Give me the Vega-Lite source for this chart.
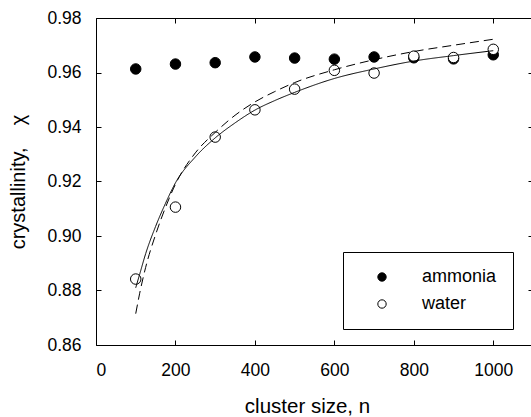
{
  "$schema": "https://vega.github.io/schema/vega-lite/v6.json",
  "autosize": "none",
  "padding": {"left": 96, "top": 18, "right": 0, "bottom": 72},
  "width": 437,
  "height": 327,
  "background": "white",
  "config": {
    "view": {"stroke": "black", "strokeWidth": 1},
    "font": "Liberation Sans",
    "axis": {"domain": false, "grid": false, "tickColor": "black", "labelColor": "black", "titleColor": "black", "labelFont": "Liberation Sans", "titleFont": "Liberation Sans", "titleFontWeight": "normal"}
  },
  "datasets": {
    "pts": [
      {"n": 100, "chi": 0.9613, "series": "ammonia"},
      {"n": 200, "chi": 0.9631, "series": "ammonia"},
      {"n": 300, "chi": 0.9636, "series": "ammonia"},
      {"n": 400, "chi": 0.9657, "series": "ammonia"},
      {"n": 500, "chi": 0.9653, "series": "ammonia"},
      {"n": 600, "chi": 0.9649, "series": "ammonia"},
      {"n": 700, "chi": 0.9657, "series": "ammonia"},
      {"n": 800, "chi": 0.9654, "series": "ammonia"},
      {"n": 900, "chi": 0.9650, "series": "ammonia"},
      {"n": 1000, "chi": 0.9665, "series": "ammonia"},
      {"n": 100, "chi": 0.8842, "series": "water"},
      {"n": 200, "chi": 0.9106, "series": "water"},
      {"n": 300, "chi": 0.9363, "series": "water"},
      {"n": 400, "chi": 0.9463, "series": "water"},
      {"n": 500, "chi": 0.9539, "series": "water"},
      {"n": 600, "chi": 0.9608, "series": "water"},
      {"n": 700, "chi": 0.9598, "series": "water"},
      {"n": 800, "chi": 0.9660, "series": "water"},
      {"n": 900, "chi": 0.9655, "series": "water"},
      {"n": 1000, "chi": 0.9685, "series": "water"}
    ],
    "fits": [
      {"n": 100, "chi": 0.881, "fit": "solid"},
      {"n": 110, "chi": 0.886, "fit": "solid"},
      {"n": 125, "chi": 0.8935, "fit": "solid"},
      {"n": 150, "chi": 0.9035, "fit": "solid"},
      {"n": 175, "chi": 0.912, "fit": "solid"},
      {"n": 200, "chi": 0.9195, "fit": "solid"},
      {"n": 250, "chi": 0.929, "fit": "solid"},
      {"n": 300, "chi": 0.936, "fit": "solid"},
      {"n": 350, "chi": 0.9415, "fit": "solid"},
      {"n": 400, "chi": 0.9462, "fit": "solid"},
      {"n": 450, "chi": 0.9497, "fit": "solid"},
      {"n": 500, "chi": 0.9527, "fit": "solid"},
      {"n": 600, "chi": 0.9578, "fit": "solid"},
      {"n": 700, "chi": 0.9613, "fit": "solid"},
      {"n": 800, "chi": 0.9642, "fit": "solid"},
      {"n": 900, "chi": 0.9662, "fit": "solid"},
      {"n": 1000, "chi": 0.968, "fit": "solid"},
      {"n": 100, "chi": 0.8715, "fit": "dashed"},
      {"n": 110, "chi": 0.879, "fit": "dashed"},
      {"n": 125, "chi": 0.8885, "fit": "dashed"},
      {"n": 150, "chi": 0.9005, "fit": "dashed"},
      {"n": 175, "chi": 0.9105, "fit": "dashed"},
      {"n": 200, "chi": 0.919, "fit": "dashed"},
      {"n": 250, "chi": 0.9305, "fit": "dashed"},
      {"n": 300, "chi": 0.938, "fit": "dashed"},
      {"n": 350, "chi": 0.9443, "fit": "dashed"},
      {"n": 400, "chi": 0.9492, "fit": "dashed"},
      {"n": 450, "chi": 0.953, "fit": "dashed"},
      {"n": 500, "chi": 0.9563, "fit": "dashed"},
      {"n": 600, "chi": 0.961, "fit": "dashed"},
      {"n": 700, "chi": 0.9647, "fit": "dashed"},
      {"n": 800, "chi": 0.9677, "fit": "dashed"},
      {"n": 900, "chi": 0.97, "fit": "dashed"},
      {"n": 1000, "chi": 0.9722, "fit": "dashed"}
    ]
  },
  "layer": [
    {
      "data": {"name": "pts"},
      "mark": {"type": "point", "filled": false, "stroke": "black", "strokeWidth": 1, "opacity": 1, "size": 110},
      "encoding": {
        "x": {"field": "n", "type": "quantitative", "scale": {"domain": [0, 1100], "nice": false, "zero": false},
          "axis": {"orient": "bottom", "values": [0, 200, 400, 600, 800, 1000], "format": "d", "tickSize": -5, "labelPadding": 21, "labelFontSize": 17.5, "labelBaseline": "top", "title": "cluster size, n", "titleFontSize": 20.5, "titleX": 211, "titleY": 67, "titleBaseline": "alphabetic", "titleAnchor": null}},
        "y": {"field": "chi", "type": "quantitative", "scale": {"domain": [0.86, 0.98], "nice": false, "zero": false},
          "axis": {"orient": "left", "values": [0.86, 0.88, 0.9, 0.92, 0.94, 0.96, 0.98], "format": ".2f", "tickSize": -5, "labelPadding": 20, "labelFontSize": 17.5, "title": "crystallinity,\u00a0\u00a0\u00a0\u00a0χ", "titleFontSize": 20, "titleX": -78, "titleY": 163.5, "titleAngle": -90, "titleBaseline": "middle", "titleAlign": "center"}},
        "fill": {"field": "series", "type": "nominal", "scale": {"domain": ["ammonia", "water"], "range": ["black", "white"]},
          "legend": {"title": null, "orient": "none", "legendX": 247, "legendY": 234, "direction": "vertical", "strokeColor": "black", "fillColor": "white", "padding": 16, "symbolOffset": 14, "labelOffset": 31, "rowPadding": 9, "labelFontSize": 18, "labelColor": "black", "symbolStrokeColor": "black", "symbolStrokeWidth": 1, "symbolSize": 70, "symbolType": "circle", "symbolOpacity": 1, "symbolFillOpacity": 1}},
        "order": {"field": "series", "sort": "ascending"}
      }
    },
    {
      "data": {"name": "fits"},
      "mark": {"type": "line", "color": "black", "strokeWidth": 1, "interpolate": "monotone"},
      "encoding": {
        "x": {"field": "n", "type": "quantitative", "scale": {"domain": [0, 1100], "nice": false, "zero": false},
          "axis": {"orient": "top", "values": [0, 200, 400, 600, 800, 1000], "tickSize": -5, "labels": false, "title": null}},
        "y": {"field": "chi", "type": "quantitative", "scale": {"domain": [0.86, 0.98], "nice": false, "zero": false},
          "axis": {"orient": "right", "values": [0.86, 0.88, 0.9, 0.92, 0.94, 0.96, 0.98], "tickSize": -5, "labels": false, "title": null}},
        "strokeDash": {"field": "fit", "type": "nominal", "scale": {"domain": ["solid", "dashed"], "range": [[1, 0], [9, 5]]}, "legend": null}
      }
    }
  ],
  "resolve": {"axis": {"x": "independent", "y": "independent"}}
}
